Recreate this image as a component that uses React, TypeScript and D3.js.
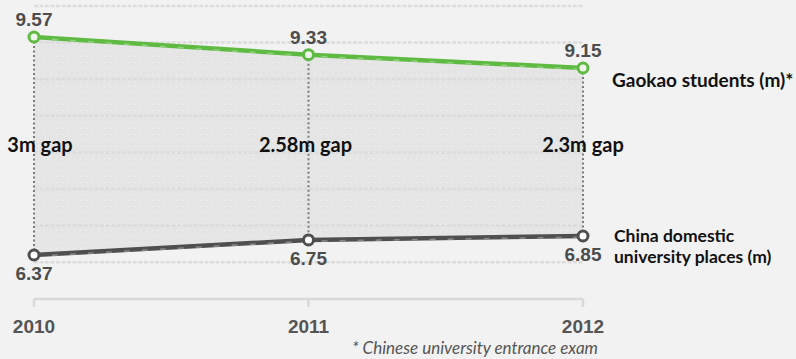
import React from "react";
import * as d3 from "d3";

const years = ["2010", "2011", "2012"];
const gaokao = [9.57, 9.33, 9.15];
const places = [6.37, 6.75, 6.85];
const gapLabels = ["3m gap", "2.58m gap", "2.3m gap"];
const gaokaoName = "Gaokao students (m)*";
const placesName = ["China domestic", "university places (m)"];
const footnote = "* Chinese university entrance exam";

const W = 796;
const H = 359;
const FONT = "Lato, 'Open Sans', 'Liberation Sans', sans-serif";

export default function App() {
  const x = d3.scalePoint<string>().domain(years).range([34, 583]);
  const yDomain = [d3.min(places)!, d3.max(places)!, d3.min(gaokao)!, d3.max(gaokao)!];
  const y = d3.scaleLinear().domain(yDomain).range([255, 236, 68, 37]);

  const upperPts = years.map((yr, i) => [x(yr)!, y(gaokao[i])] as [number, number]);
  const lowerPts = years.map((yr, i) => [x(yr)!, y(places[i])] as [number, number]);

  const line = d3.line<[number, number]>();
  const area = d3
    .area<number>()
    .x((i) => x(years[i])!)
    .y0((i) => y(places[i]))
    .y1((i) => y(gaokao[i]));

  const grid = d3.range(8).map((i) => 6 + i * 36.6);
  const x0 = x(years[0])!;
  const x1 = x(years[years.length - 1])!;
  const gapOffsets = [6, -3, 0];

  return (
    <svg
      width={W}
      height={H}
      style={{ position: "fixed", left: 0, top: 0, background: "#f2f2f2" }}
    >
      <defs>
        <pattern id="dots" width="6" height="6" patternUnits="userSpaceOnUse">
          <rect width="6" height="6" fill="#e5e5e5" />
          <rect x="2" y="2" width="1" height="1" fill="#f3f3f3" />
        </pattern>
      </defs>
      <rect width={W} height={H} fill="#f2f2f2" />
      <path d={area(d3.range(years.length))!} fill="url(#dots)" />
      {grid.map((gy, i) => (
        <line
          key={i}
          x1={x0}
          x2={x1}
          y1={gy}
          y2={gy}
          stroke="#dcdcdc"
          strokeWidth={2.5}
          strokeDasharray="4 1.5"
        />
      ))}
      {years.map((yr, i) => (
        <line
          key={yr}
          x1={x(yr)}
          x2={x(yr)}
          y1={y(gaokao[i])}
          y2={y(places[i])}
          stroke="#7a7a7a"
          strokeWidth={2}
          strokeDasharray="2 2.5"
        />
      ))}
      {/* x axis */}
      <line x1={x0} x2={x1} y1={299} y2={299} stroke="#d9d9d9" strokeWidth={2.5} />
      {years.map((yr) => (
        <line key={yr} x1={x(yr)} x2={x(yr)} y1={299} y2={307} stroke="#d9d9d9" strokeWidth={2.5} />
      ))}
      {/* lines */}
      <path d={line(upperPts)!} fill="none" stroke="#5fba44" strokeWidth={4.5} />
      <path
        d={line(upperPts.map(([a, b]) => [a, b + 1.2] as [number, number]))!}
        fill="none"
        stroke="#8fd27a"
        strokeWidth={1.5}
        strokeDasharray="6 12"
      />
      <path d={line(lowerPts)!} fill="none" stroke="#4f4f4f" strokeWidth={4.5} />
      <path
        d={line(lowerPts.map(([a, b]) => [a, b + 1.2] as [number, number]))!}
        fill="none"
        stroke="#8a8a8a"
        strokeWidth={1.5}
        strokeDasharray="6 12"
      />
      {upperPts.map(([cx, cy], i) => (
        <circle key={i} cx={cx} cy={cy} r={5} fill="#eef6ea" stroke="#5fba44" strokeWidth={3} />
      ))}
      {lowerPts.map(([cx, cy], i) => (
        <circle key={i} cx={cx} cy={cy} r={5} fill="#ffffff" stroke="#4f4f4f" strokeWidth={3} />
      ))}
      {/* value labels */}
      {years.map((yr, i) => (
        <text
          key={"u" + yr}
          x={x(yr)}
          y={y(gaokao[i]) - 11}
          textAnchor="middle"
          fontFamily="'Liberation Sans', Arial, sans-serif"
          fontWeight="bold"
          fontSize={19}
          fill="#4d4d4d"
        >
          {gaokao[i].toFixed(2)}
        </text>
      ))}
      {years.map((yr, i) => (
        <text
          key={"l" + yr}
          x={x(yr)}
          y={y(places[i]) + 25}
          textAnchor="middle"
          fontFamily="'Liberation Sans', Arial, sans-serif"
          fontWeight="bold"
          fontSize={19}
          fill="#4d4d4d"
        >
          {places[i].toFixed(2)}
        </text>
      ))}
      {/* gap labels */}
      {years.map((yr, i) => (
        <text
          key={"g" + yr}
          x={x(yr)! + gapOffsets[i]}
          y={152}
          textAnchor="middle"
          fontFamily={FONT}
          fontWeight="bold"
          fontSize={20}
          fill="#111"
        >
          {gapLabels[i]}
        </text>
      ))}
      {/* series labels */}
      <text
        x={612}
        y={y(gaokao[2]) + 19}
        fontFamily={FONT}
        fontWeight="bold"
        fontSize={19}
        fill="#111"
      >
        {gaokaoName}
      </text>
      <text x={614} y={y(places[2]) + 6} fontFamily={FONT} fontWeight="bold" fontSize={17.5} fill="#111">
        <tspan x={614}>{placesName[0]}</tspan>
        <tspan x={614} dy={21}>
          {placesName[1]}
        </tspan>
      </text>
      {/* year labels */}
      {years.map((yr) => (
        <text
          key={"y" + yr}
          x={x(yr)}
          y={333}
          textAnchor="middle"
          fontFamily="'Liberation Sans', Arial, sans-serif"
          fontWeight="bold"
          fontSize={19}
          fill="#555"
        >
          {yr}
        </text>
      ))}
      <text
        x={598}
        y={354}
        textAnchor="end"
        fontFamily={FONT}
        fontStyle="italic"
        fontSize={17}
        fill="#555"
      >
        {footnote}
      </text>
    </svg>
  );
}
